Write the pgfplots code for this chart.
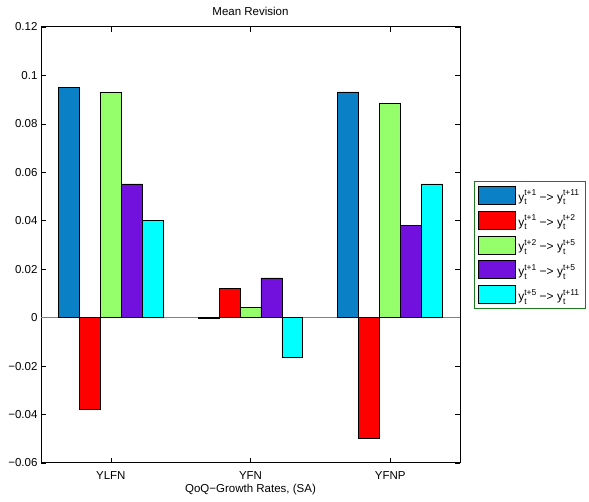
\documentclass[border=0pt]{standalone}
\usepackage{pgfplots}
\pgfplotsset{compat=1.18}
\usepackage{fontspec}
\setmainfont{Liberation Sans}
\definecolor{cblue}{HTML}{0A80C6}
\definecolor{cred}{HTML}{FF0000}
\definecolor{cgreen}{HTML}{94FF6B}
\definecolor{cpurple}{HTML}{7210DE}
\definecolor{ccyan}{HTML}{00FFFF}
\definecolor{lgreen}{HTML}{1E7A1E}
\newcommand{\ssz}{\fontsize{8.5}{8.5}\selectfont}
\newcommand{\yy}[1]{y\rlap{\raisebox{-3.5pt}{\ssz t}}\raisebox{5.5pt}{\ssz #1}}
\begin{document}
\begin{tikzpicture}
\path[use as bounding box] (0,0) rectangle (589pt,502pt);
\begin{axis}[
  at={(41pt,39pt)}, anchor=south west,
  scale only axis, width=419pt, height=436pt,
  xmin=0.5, xmax=3.5, ymin=-0.06, ymax=0.12,
  ybar=0pt, bar width=0.15,
  xtick={1,2,3}, xticklabels={YLFN,YFN,YFNP},
  ytick={-0.06,-0.04,-0.02,0,0.02,0.04,0.06,0.08,0.1,0.12},
  yticklabels={−0.06,−0.04,−0.02,0,0.02,0.04,0.06,0.08,0.1,0.12},
  tick align=inside, major tick length=5pt,
  tick style={black, line width=0.6pt},
  axis line style={line width=1pt},
  ticklabel style={font=\fontsize{11.5}{12}\selectfont},
  xticklabel style={yshift=-5pt},
  title={Mean Revision}, title style={font=\fontsize{11.5}{12}\selectfont, yshift=2pt},
  xlabel={QoQ−Growth Rates, (SA)}, xlabel style={font=\fontsize{11.5}{12}\selectfont, yshift=2pt},
  extra y ticks={0}, extra y tick labels={},
  extra y tick style={grid=major, major grid style={gray, line width=0.8pt}, major tick length=0pt},
  legend style={at={(rel axis cs:1.0334,0.647)}, anchor=north west,
    draw=lgreen, line width=1pt, font=\fontsize{12}{12}\selectfont,
    row sep=6pt, inner xsep=4pt, inner ysep=4.5pt,
    nodes={inner xsep=2pt}},
  legend cell align=left,
  legend image code/.code={\draw[#1, draw=black, line width=0.8pt] (0pt,-8pt) rectangle (37pt,10pt);},
  every axis plot/.append style={draw=black, line width=0.8pt},
]
\addplot[fill=cblue] coordinates {(1,0.0951) (2,-0.0003) (3,0.0932)};
\addplot[fill=cred] coordinates {(1,-0.0378) (2,0.0121) (3,-0.0500)};
\addplot[fill=cgreen] coordinates {(1,0.0931) (2,0.0043) (3,0.0885)};
\addplot[fill=cpurple] coordinates {(1,0.0552) (2,0.0164) (3,0.0379)};
\addplot[fill=ccyan] coordinates {(1,0.0400) (2,-0.0164) (3,0.0552)};
\legend{\yy{t+1} −> \yy{t+11}, \yy{t+1} −> \yy{t+2}, \yy{t+2} −> \yy{t+5}, \yy{t+1} −> \yy{t+5}, \yy{t+5} −> \yy{t+11}}
\end{axis}
\end{tikzpicture}
\end{document}
